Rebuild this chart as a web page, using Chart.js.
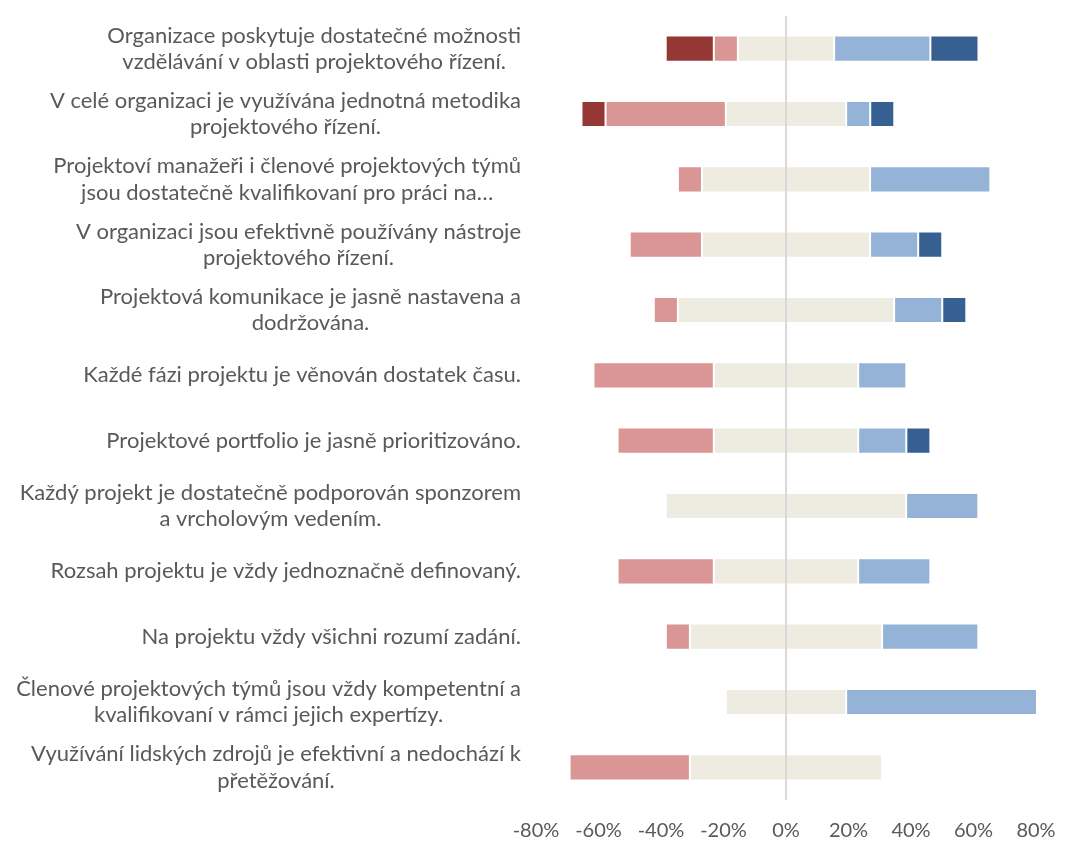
<!DOCTYPE html>
<html>
<head>
<meta charset="utf-8">
<script src="https://cdn.jsdelivr.net/npm/chart.js@4"></script>
<style>
  body { margin: 0; background: #ffffff; }
  #graf { display: block; }
</style>
</head>
<body>
<canvas id="graf" width="1067" height="841"></canvas>
<script>
// Otázky (kategorie), každá jako pole řádků
var otazky = [
    ['Organizace poskytuje dostatečné možnosti', 'vzdělávání v oblasti projektového řízení.'],
    ['V celé organizaci je využívána jednotná metodika', 'projektového řízení.'],
    ['Projektoví manažeři i členové projektových týmů', 'jsou dostatečně kvalifikovaní pro práci na…'],
    ['V organizaci jsou efektivně používány nástroje', 'projektového řízení.'],
    ['Projektová komunikace je jasně nastavena a', 'dodržována.'],
    ['Každé fázi projektu je věnován dostatek času.'],
    ['Projektové portfolio je jasně prioritizováno.'],
    ['Každý projekt je dostatečně podporován sponzorem', 'a vrcholovým vedením.'],
    ['Rozsah projektu je vždy jednoznačně definovaný.'],
    ['Na projektu vždy všichni rozumí zadání.'],
    ['Členové projektových týmů jsou vždy kompetentní a', 'kvalifikovaní v rámci jejich expertízy.'],
    ['Využívání lidských zdrojů je efektivní a nedochází k', 'přetěžování.']
];

// Podíly odpovědí v %
var rozhodneNesouhlas = [15.4, 7.7, 0, 0, 0, 0, 0, 0, 0, 0, 0, 0];
var nesouhlas         = [7.7, 38.5, 7.7, 23.1, 7.7, 38.5, 30.8, 0, 30.8, 7.7, 0, 38.5];
var neutralni         = [30.8, 38.5, 53.8, 53.8, 69.2, 46.2, 46.2, 76.9, 46.2, 61.5, 38.5, 61.5];
var souhlas           = [30.8, 7.7, 38.5, 15.4, 15.4, 15.4, 15.4, 23.1, 23.1, 30.8, 61.5, 0];
var rozhodneSouhlas   = [15.4, 7.7, 0, 7.7, 7.7, 0, 7.7, 0, 0, 0, 0, 0];

// Osa X
var osaMin = -80;
var osaMax = 80;
var osaKrok = 20;

var barvaTextu = '#595959';
var pismo = 'Lato, "Open Sans", sans-serif';

// Neutrální odpovědi se dělí napůl kolem nuly
var neutralniZaporne = neutralni.map(v => -v / 2);
var neutralniKladne = neutralni.map(v => v / 2);

function sada(label, data, barva, okraj) {
    return {
        label: label,
        data: data,
        backgroundColor: barva,
        borderColor: 'rgba(255,255,255,0.4)',
        borderWidth: 1,
        borderSkipped: okraj,
        barPercentage: 0.4,
        categoryPercentage: 1
    };
}

// Plugin pro popisky otázek (řádky centrované v bloku zarovnaném doprava)
var popiskyPlugin = {
    id: 'popisky',
    afterDraw: function(chart) {
        var ctx = chart.ctx;
        var y = chart.scales.y;
        var pravyOkraj = 521;
        var vyskaRadku = 26.5;
        ctx.save();
        ctx.font = '22px ' + pismo;
        ctx.fillStyle = barvaTextu;
        ctx.textAlign = 'center';
        ctx.textBaseline = 'middle';
        otazky.forEach(function(radky, i) {
            var stred = y.getPixelForValue(i);
            var sirka = Math.max.apply(null, radky.map(r => ctx.measureText(r).width));
            var x = pravyOkraj - sirka / 2;
            var zacatek = stred - (radky.length - 1) * vyskaRadku / 2;
            radky.forEach(function(r, j) {
                ctx.fillText(r, x, zacatek + j * vyskaRadku);
            });
        });
        ctx.restore();
    }
};

var ctxGraf = document.getElementById('graf').getContext('2d');
var myChart = new Chart(ctxGraf, {
    type: 'bar',
    data: {
        labels: otazky.map(r => r.join(' ')),
        datasets: [
            sada('Neutrální', neutralniZaporne, '#EEECE1', 'start'),
            sada('Nesouhlasím', nesouhlas.map(v => -v), '#DA9694', false),
            sada('Rozhodně nesouhlasím', rozhodneNesouhlas.map(v => -v), '#953735', false),
            sada('Neutrální ', neutralniKladne, '#EEECE1', 'start'),
            sada('Souhlasím', souhlas, '#95B3D7', false),
            sada('Rozhodně souhlasím', rozhodneSouhlas, '#366092', false)
        ]
    },
    options: {
        indexAxis: 'y',
        responsive: false,
        animation: false,
        layout: {
            padding: { left: 536, right: 31, top: 16, bottom: 0 }
        },
        plugins: {
            legend: { display: false },
            tooltip: { enabled: false }
        },
        scales: {
            x: {
                stacked: true,
                min: osaMin,
                max: osaMax,
                z: 1,
                border: { display: false },
                grid: {
                    drawTicks: false,
                    lineWidth: 2,
                    color: function(c) {
                        return c.tick && c.tick.value === 0 ? '#D9D9D9' : 'rgba(0,0,0,0)';
                    }
                },
                ticks: {
                    stepSize: osaKrok,
                    padding: 19,
                    color: barvaTextu,
                    font: { family: pismo, size: 20 },
                    callback: function(v) { return v + '%'; }
                },
                afterFit: function(s) {
                    s.height = 41;
                    s.paddingLeft = 0;
                    s.paddingRight = 0;
                }
            },
            y: {
                stacked: true,
                display: false
            }
        }
    },
    plugins: [popiskyPlugin]
});
</script>
</body>
</html>
